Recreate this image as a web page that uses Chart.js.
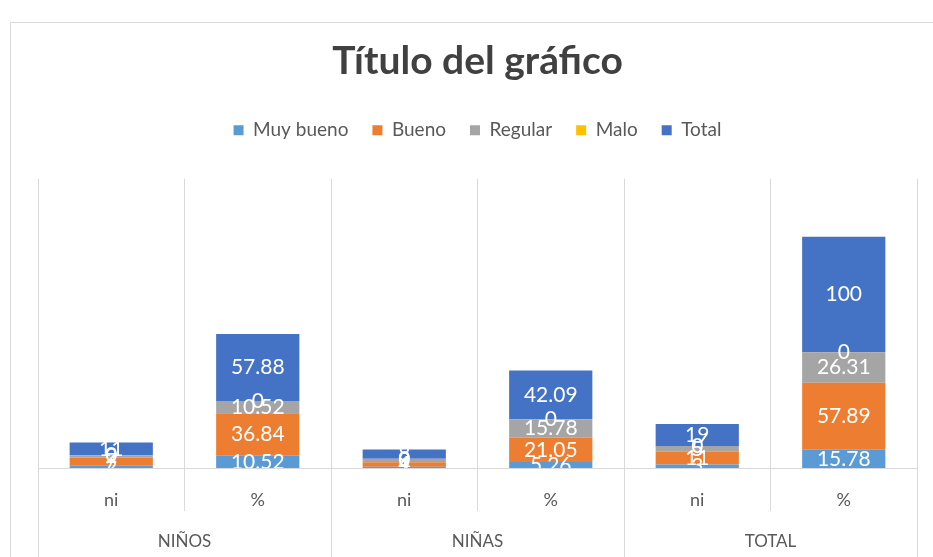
<!DOCTYPE html>
<html>
<head>
<meta charset="utf-8">
<script src="https://cdn.jsdelivr.net/npm/chart.js@4/dist/chart.umd.min.js"></script>
<style>
  body{margin:0;background:#fff;overflow:hidden;}
  #wrap{position:relative;width:933px;height:557px;overflow:hidden;}
  #frame{position:absolute;left:10px;top:22px;width:940px;height:600px;border:1px solid #d9d9d9;pointer-events:none;}
  canvas{position:absolute;left:0;top:0;}
</style>
</head>
<body>
<div id="wrap">
  <canvas id="grafico" width="933" height="557"></canvas>
  <div id="frame"></div>
</div>
<script>
var categorias=['ni','%','ni','%','ni','%'];
var grupos=['NIÑOS','NIÑAS','TOTAL'];
var muyBueno=[2,10.52,1,5.26,3,15.78];
var bueno=[7,36.84,4,21.05,11,57.89];
var regular=[2,10.52,3,15.78,5,26.31];
var malo=[0,0,0,0,0,0];
var total=[11,57.88,8,42.09,19,100];

var fuente="Lato, 'Open Sans', sans-serif";

// etiquetas de datos blancas en el centro de cada segmento
var etiquetas={
  id:'etiquetas',
  afterDatasetsDraw:function(chart){
    var ctx=chart.ctx;
    var area=chart.chartArea;
    ctx.save();
    ctx.beginPath();
    ctx.rect(area.left,area.top,area.right-area.left,area.bottom-area.top);
    ctx.clip();
    ctx.fillStyle='#fff';
    ctx.font='21px '+fuente;
    ctx.textAlign='center';
    ctx.textBaseline='middle';
    chart.data.datasets.forEach(function(ds,i){
      var meta=chart.getDatasetMeta(i);
      meta.data.forEach(function(bar,j){
        var yc=(bar.y+bar.base)/2;
        ctx.fillText(String(ds.data[j]),bar.x,yc);
      });
    });
    ctx.restore();
  }
};

// espacio extra debajo de la leyenda
var margenLeyenda={
  id:'margenLeyenda',
  beforeInit:function(chart){
    var fit=chart.legend.fit;
    chart.legend.fit=function(){
      fit.bind(chart.legend)();
      this.height+=29;
    };
  }
};

var opcionesBarra={barPercentage:0.568,categoryPercentage:1};

var ctx=document.getElementById('grafico');
var grafico=new Chart(ctx,{
  type:'bar',
  data:{
    labels:categorias,
    datasets:[
      Object.assign({label:'Muy bueno',data:muyBueno,backgroundColor:'#5B9BD5'},opcionesBarra),
      Object.assign({label:'Bueno',data:bueno,backgroundColor:'#ED7D31'},opcionesBarra),
      Object.assign({label:'Regular',data:regular,backgroundColor:'#A5A5A5'},opcionesBarra),
      Object.assign({label:'Malo',data:malo,backgroundColor:'#FFC000'},opcionesBarra),
      Object.assign({label:'Total',data:total,backgroundColor:'#4472C4'},opcionesBarra)
    ]
  },
  options:{
    responsive:false,
    animation:false,
    layout:{padding:{left:38,right:16,top:0,bottom:0}},
    plugins:{
      title:{
        display:true,
        text:'Título del gráfico',
        color:'#404040',
        font:{family:fuente,size:39,weight:'bold'},
        padding:{top:38,bottom:12}
      },
      legend:{
        position:'top',
        labels:{
          boxWidth:10,
          boxHeight:10,
          padding:24,
          color:'#595959',
          font:{family:fuente,size:19}
        }
      },
      tooltip:{enabled:false}
    },
    scales:{
      x:{
        stacked:true,
        labels:categorias,
        grid:{
          color:'#d9d9d9',
          offset:true,
          tickLength:95,
          tickColor:'#d9d9d9',
          // separadores ni/% cortos, separadores de grupo hasta abajo
          tickBorderDash:function(c){ return c.index%2===1?[42,200]:[]; }
        },
        border:{color:'#d9d9d9'},
        ticks:{padding:-74,color:'#595959',font:{family:fuente,size:18}},
        afterFit:function(escala){ escala.height=44; }
      },
      x2:{
        type:'category',
        position:'bottom',
        labels:grupos,
        grid:{display:false,drawTicks:false},
        border:{display:false},
        ticks:{padding:19,color:'#595959',font:{family:fuente,size:17}},
        afterFit:function(escala){ escala.height=45; }
      },
      y:{
        stacked:true,
        display:false,
        min:0,
        max:250
      }
    }
  },
  plugins:[etiquetas,margenLeyenda]
});
</script>
</body>
</html>
